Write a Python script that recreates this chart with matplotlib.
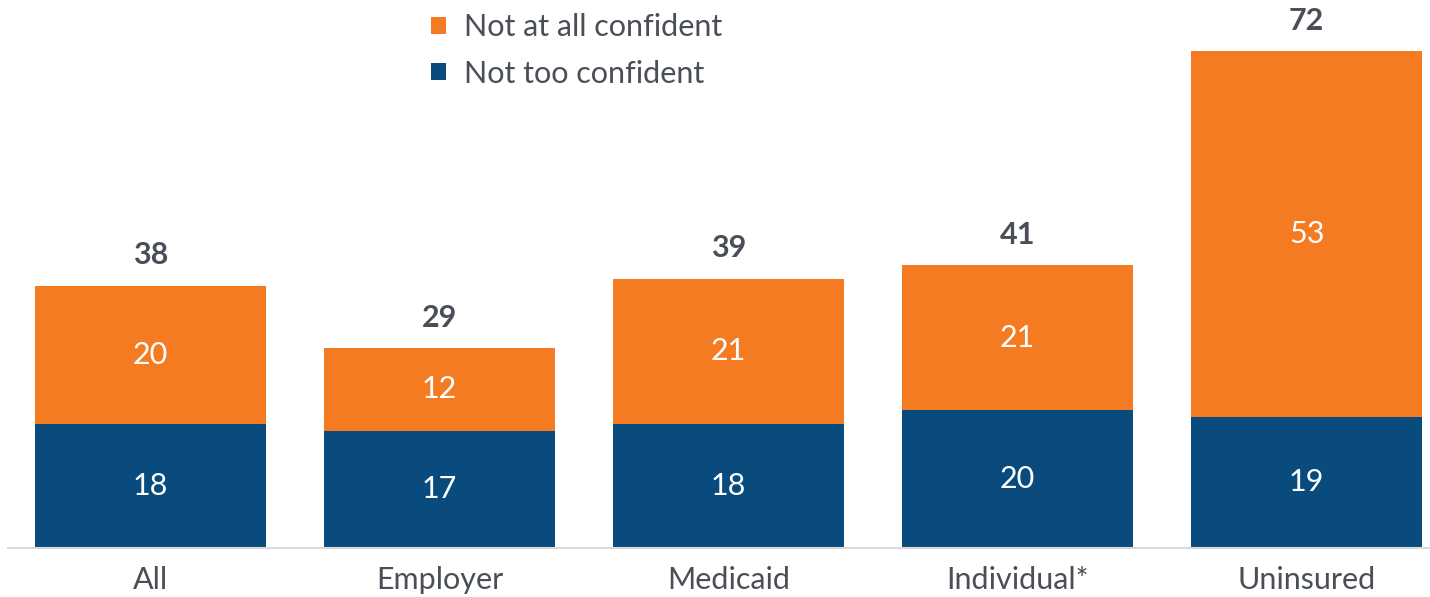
import matplotlib.pyplot as plt
import numpy as np

plt.rcParams['font.family'] = ['Lato', 'DejaVu Sans']

# Data
categories = ['All', 'Employer', 'Medicaid', 'Individual*', 'Uninsured']
not_too_confident = [18, 17, 18, 20, 19]
not_at_all_confident = [20, 12, 21, 21, 53]
totals = [38, 29, 39, 41, 72]

BLUE = '#0A4B7D'
ORANGE = '#F47B22'
GREY_TEXT = '#4A4F57'

fig = plt.figure(figsize=(14.3, 5.97), dpi=100)
ax = fig.add_axes([0.0056, 0.082, 0.9944, 0.918])

x = np.arange(len(categories))
width = 0.8

b1 = ax.bar(x, not_too_confident, width, color=BLUE, label='Not too confident')
b2 = ax.bar(x, not_at_all_confident, width, bottom=not_too_confident,
            color=ORANGE, label='Not at all confident')

# segment labels
for i in range(len(categories)):
    ax.text(x[i], not_too_confident[i] / 2, str(not_too_confident[i]),
            ha='center', va='center', color='white', fontsize=22)
    ax.text(x[i], not_too_confident[i] + not_at_all_confident[i] / 2,
            str(not_at_all_confident[i]),
            ha='center', va='center', color='white', fontsize=22)
    ax.text(x[i], totals[i] + 4.4, str(totals[i]), ha='center', va='center',
            color=GREY_TEXT, fontsize=22, fontweight='bold')

ax.set_xlim(-0.493, 4.427)
ax.set_ylim(0, 79.4)
ax.set_xticks(x)
ax.set_xticklabels(categories, fontsize=22, color=GREY_TEXT)
ax.tick_params(axis='x', length=0, pad=13)
ax.set_yticks([])
for side in ['top', 'right', 'left']:
    ax.spines[side].set_visible(False)
ax.spines['bottom'].set_color('#D9D9D9')
ax.spines['bottom'].set_linewidth(1.5)

leg = fig.legend(handles=[b2, b1], loc='upper left', bbox_to_anchor=(0.282, 1.024),
                 frameon=False, fontsize=22, handlelength=0.49, handleheight=0.49,
                 handletextpad=0.59, labelspacing=0.6)
for t in leg.get_texts():
    t.set_color(GREY_TEXT)

fig.savefig('out.png', dpi=100)
